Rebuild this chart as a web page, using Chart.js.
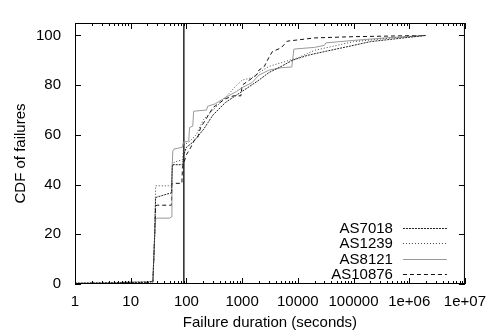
<!DOCTYPE html>
<html>
<head>
<meta charset="utf-8">
<script src="https://cdn.jsdelivr.net/npm/chart.js@4.4.1/dist/chart.umd.min.js"></script>
<style>
  html, body { margin: 0; padding: 0; background: #fff; }
</style>
</head>
<body>
<canvas id="cdf" width="495" height="335"></canvas>
<script>
// [seconds, percent] pairs
const as7018 = [[1,0.3],[10,0.5],[20,0.7],[25,1],[27,20],[28,34.8],[30,35],[54,36.7],[56,48],[85,48],[90,52],[100,55],
  [130,57],[200,62],[300,68],[500,73],[1000,77.5],[2000,82],[3000,85],[5000,87.5],[8000,90],[15000,92],[30000,93.5],
  [100000,96],[200000,97.5],[500000,98.5],[2e6,100]];
const as1239 = [[1,0.3],[5,0.5],[10,0.7],[25,0.9],[27,20],[28,39.5],[54,39.5],[56,47],[60,49],[85,50],[90,56],[110,57],
  [150,60],[200,66],[300,70],[500,75],[800,80],[1000,82],[1500,83],[2000,85],[3000,87.5],[5000,89],[10000,91],
  [20000,94],[40000,95.5],[100000,97.5],[500000,99],[2e6,100]];
const as8121 = [[1,0.3],[5,0.5],[10,0.8],[20,0.9],[25,1],[27,20],[28,26],[30,26.5],[50,26.5],[54,27],[55,45],[57,53.5],
  [60,54.3],[85,55],[88,57],[110,57.5],[114,63],[130,63.5],[135,69.5],[230,70],[240,71.5],[330,72.5],[500,75],
  [800,77.5],[1000,79],[1500,81],[2000,84],[3000,86],[5000,87],[7800,87.3],[8500,94.5],[20000,95.2],[30000,96],
  [32000,97],[100000,98],[500000,99.2],[2e6,100]];
const as10876 = [[1,0.2],[10,0.3],[20,0.5],[25,0.8],[26,10],[28,31.5],[30,31.7],[54,31.7],[55,40.5],[83,40.5],[85,47],
  [100,52],[120,55],[140,58],[160,59],[180,63],[220,66],[300,71],[500,74.5],[700,75.7],[950,75.7],[1000,80],
  [1800,84],[2000,86],[2500,87.5],[3000,91],[3500,93.5],[5000,95],[6500,97.7],[20000,99],[100000,99.5],[2e6,100]];
const cutoff = 90;

const xTicks = [1, 10, 100, 1000, 10000, 100000, 1e6, 1e7];
const xLabels = ['1', '10', '100', '1000', '10000', '100000', '1e+06', '1e+07'];
const yTicks = [0, 20, 40, 60, 80, 100];

const font = { family: "'Liberation Sans', Arial, sans-serif", size: 15 };
const pts = arr => arr.map(p => ({ x: p[0], y: p[1] }));

// gnuplot style frame: inward ticks on all sides + key in the lower right
const framePlugin = {
  id: 'frame',
  afterDatasetsDraw(chart) {
    const { ctx, chartArea: a, scales: { x, y } } = chart;
    ctx.save();
    ctx.strokeStyle = '#000';
    ctx.lineWidth = 1;
    ctx.strokeRect(a.left + 0.5, a.top + 0.5, a.right - a.left - 1, a.bottom - a.top - 1);

    ctx.beginPath();
    for (let d = 1; d <= 1e7; d *= 10) {
      for (let m = 1; m <= 9; m++) {
        const v = d * m;
        if (v > 1e7) break;
        const px = Math.round(x.getPixelForValue(v)) + 0.5;
        const len = m === 1 ? 6 : 3;
        ctx.moveTo(px, a.bottom); ctx.lineTo(px, a.bottom - len);
        ctx.moveTo(px, a.top); ctx.lineTo(px, a.top + len);
      }
    }
    yTicks.forEach(v => {
      const py = Math.round(y.getPixelForValue(v)) + 0.5;
      ctx.moveTo(a.left, py); ctx.lineTo(a.left + 6, py);
      ctx.moveTo(a.right, py); ctx.lineTo(a.right - 6, py);
    });
    ctx.stroke();

    // key
    const items = chart.data.datasets.filter(ds => ds.label);
    ctx.font = `${font.size}px ${font.family}`;
    ctx.fillStyle = '#000';
    ctx.textAlign = 'right';
    ctx.textBaseline = 'middle';
    items.forEach((ds, i) => {
      const ry = Math.round(a.bottom - 10 - (items.length - 1 - i) * 15.3) + 0.5;
      ctx.fillText(ds.label, a.right - 72, ry);
      ctx.beginPath();
      ctx.strokeStyle = ds.borderColor;
      ctx.lineWidth = ds.borderWidth;
      ctx.setLineDash(ds.borderDash || []);
      ctx.moveTo(a.right - 62, ry);
      ctx.lineTo(a.right - 18, ry);
      ctx.stroke();
    });
    ctx.restore();
  }
};

new Chart(document.getElementById('cdf'), {
  type: 'line',
  data: {
    datasets: [
      { label: 'AS7018', data: pts(as7018), borderColor: '#222', borderWidth: 1, borderDash: [2, 1] },
      { label: 'AS1239', data: pts(as1239), borderColor: '#444', borderWidth: 1, borderDash: [1, 2] },
      { label: 'AS8121', data: pts(as8121), borderColor: '#999', borderWidth: 1 },
      { label: 'AS10876', data: pts(as10876), borderColor: '#111', borderWidth: 1, borderDash: [4, 3] },
      { data: [{ x: cutoff, y: 0 }, { x: cutoff, y: 105 }], borderColor: '#000', borderWidth: 1.3 }
    ]
  },
  options: {
    responsive: false,
    animation: false,
    layout: { padding: { left: 0, right: 25, top: 5, bottom: 0 } },
    elements: { point: { radius: 0 }, line: { tension: 0, fill: false } },
    plugins: { legend: { display: false }, tooltip: { enabled: false } },
    scales: {
      x: {
        type: 'logarithmic',
        min: 1,
        max: 1e7,
        afterBuildTicks: s => { s.ticks = xTicks.map(v => ({ value: v })); },
        afterFit: s => { s.height = 51; },
        grid: { display: false, drawTicks: false },
        border: { display: false },
        ticks: {
          color: '#000', font, padding: 9, maxRotation: 0, autoSkip: false,
          callback: v => xLabels[xTicks.indexOf(v)]
        },
        title: { display: true, text: 'Failure duration (seconds)', color: '#000', font, padding: 3 }
      },
      y: {
        min: 0,
        max: 105,
        afterBuildTicks: s => { s.ticks = yTicks.map(v => ({ value: v })); },
        afterFit: s => { s.width = 75; },
        grid: { display: false, drawTicks: false },
        border: { display: false },
        ticks: { color: '#000', font, padding: 14 },
        title: { display: true, text: 'CDF of failures', color: '#000', font, padding: 12 }
      }
    }
  },
  plugins: [framePlugin]
});
</script>
</body>
</html>
